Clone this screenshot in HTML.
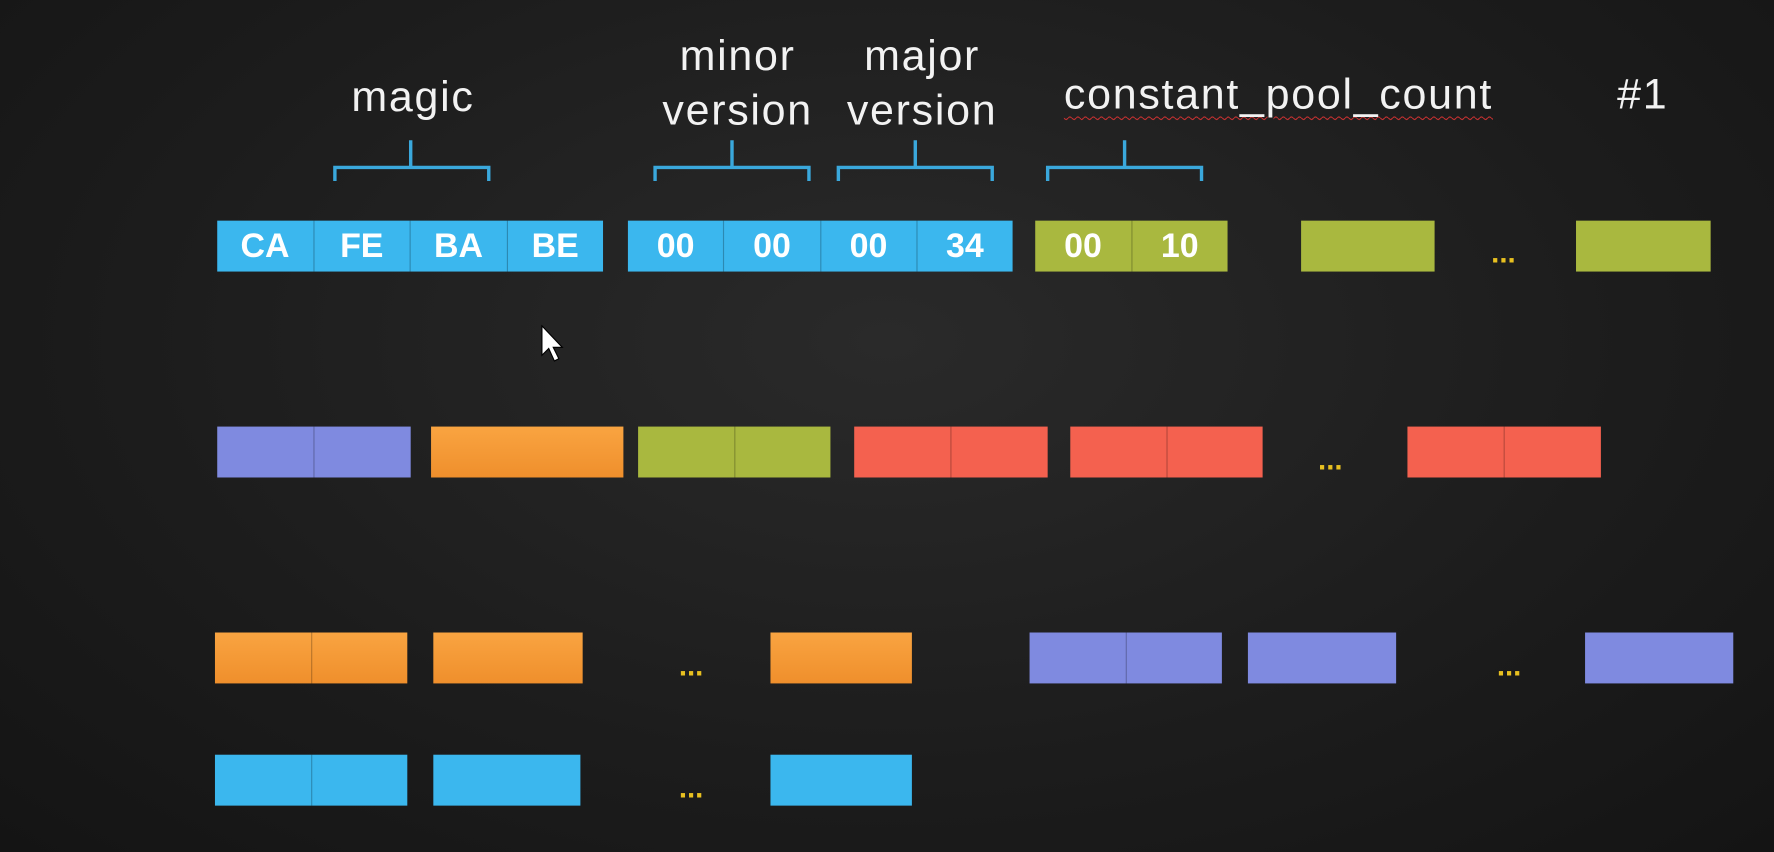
<!DOCTYPE html>
<html><head><style>
html,body{margin:0;padding:0;background:#1b1b1b;overflow:hidden}
#w{position:absolute;left:0;top:0;width:1568px;height:753px;transform:scale(1.13138,1.1315);transform-origin:0 0;
background:radial-gradient(ellipse at 50% 40%,#2a2a2a 0%,#1c1c1c 60%,#141414 100%);font-family:"Liberation Sans",sans-serif}
.b{position:absolute;height:45px;display:flex}
.b div{flex:1;display:flex;align-items:center;justify-content:center;color:#fff;font-weight:bold;font-size:30px;border-left:1px solid rgba(0,0,0,.25)}
.b div:first-child{border-left:none}
.bl{background:#3bb7ee}.pu{background:#7f8ae0}.or{background:linear-gradient(#f9a441,#ef8f2c)}.gr{background:#a9b83f}.rd{background:#f4614f}
.d{position:absolute;color:#e8c020;font-size:26px;font-weight:bold}
.t{position:absolute;color:#f2f2f2;font-size:38px;letter-spacing:1.5px;line-height:48px;text-align:center;white-space:nowrap}
</style></head><body><div id="w">
<div class="t" style="left:265px;top:62px;width:200px">magic</div>
<div class="t" style="left:552px;top:26px;width:200px">minor<br>version</div>
<div class="t" style="left:715px;top:26px;width:200px">major<br>version</div>
<div class="t" style="left:900px;top:60px;width:460px;text-decoration:underline wavy #c03030;text-decoration-thickness:1px;text-underline-offset:6px">constant_pool_count</div>
<div class="t" style="left:1402px;top:60px;width:100px">#1</div>
<svg style="position:absolute;left:0;top:0" width="1568" height="753" fill="none" stroke="#3aa8dc" stroke-width="3">
<path d="M296 160V148H432V160M363 124V148"/>
<path d="M579 160V148H715V160M647 124V148"/>
<path d="M741 160V148H877V160M809 124V148"/>
<path d="M926 160V148H1062V160M994 124V148"/>
</svg>
<div class="b bl" style="left:192px;top:195px;width:341px"><div>CA</div><div>FE</div><div>BA</div><div>BE</div></div>
<div class="b bl" style="left:555px;top:195px;width:340px"><div>00</div><div>00</div><div>00</div><div>34</div></div>
<div class="b gr" style="left:915px;top:195px;width:170px"><div>00</div><div>10</div></div>
<div class="b gr" style="left:1150px;top:195px;width:118px"><div></div></div>
<div class="d" style="left:1318px;top:208px">...</div>
<div class="b gr" style="left:1393px;top:195px;width:119px"><div></div></div>

<div class="b pu" style="left:192px;top:377px;width:171px"><div></div><div></div></div>
<div class="b or" style="left:381px;top:377px;width:170px"><div></div></div>
<div class="b gr" style="left:564px;top:377px;width:170px"><div></div><div></div></div>
<div class="b rd" style="left:755px;top:377px;width:171px"><div></div><div></div></div>
<div class="b rd" style="left:946px;top:377px;width:170px"><div></div><div></div></div>
<div class="d" style="left:1165px;top:391px">...</div>
<div class="b rd" style="left:1244px;top:377px;width:171px"><div></div><div></div></div>

<div class="b or" style="left:190px;top:559px;width:170px"><div></div><div></div></div>
<div class="b or" style="left:383px;top:559px;width:132px"><div></div></div>
<div class="d" style="left:600px;top:573px">...</div>
<div class="b or" style="left:681px;top:559px;width:125px"><div></div></div>
<div class="b pu" style="left:910px;top:559px;width:170px"><div></div><div></div></div>
<div class="b pu" style="left:1103px;top:559px;width:131px"><div></div></div>
<div class="d" style="left:1323px;top:573px">...</div>
<div class="b pu" style="left:1401px;top:559px;width:131px"><div></div></div>

<div class="b bl" style="left:190px;top:667px;width:170px"><div></div><div></div></div>
<div class="b bl" style="left:383px;top:667px;width:130px"><div></div></div>
<div class="d" style="left:600px;top:681px">...</div>
<div class="b bl" style="left:681px;top:667px;width:125px"><div></div></div>
<svg style="position:absolute;left:478px;top:287px" width="22" height="34"><path d="M1 1V27L7 21L12 32L16 30L11 20H19Z" fill="#fff" stroke="#000" stroke-width="1"/></svg>
</div></body></html>
